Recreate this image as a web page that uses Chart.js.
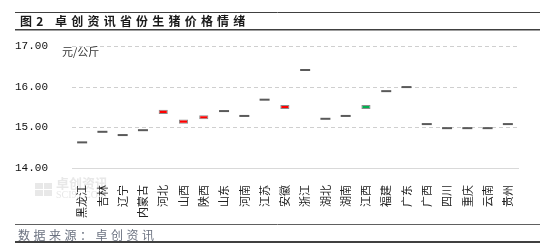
<!DOCTYPE html>
<html>
<head>
<meta charset="utf-8">
<script src="https://cdn.jsdelivr.net/npm/chart.js@4/dist/chart.umd.min.js"></script>
<style>
  body { margin: 0; background: #fff; }
  #wrap { width: 554px; height: 250px; position: relative; }
</style>
</head>
<body>
<div id="wrap"><canvas id="price-chart"></canvas></div>
<script>
const provinces = ['黑龙江', '吉林', '辽宁', '内蒙古', '河北', '山西', '陕西', '山东', '河南', '江苏', '安徽',
  '浙江', '湖北', '湖南', '江西', '福建', '广东', '广西', '四川', '重庆', '云南', '贵州']
const openPrices = [14.63, 14.89, 14.81, 14.93, 15.33, 15.09, 15.20, 15.40, 15.28, 15.68, 15.45,
  16.41, 15.21, 15.28, 15.55, 15.89, 15.99, 15.08, 14.98, 14.98, 14.98, 15.08]
const closePrices = [14.63, 14.89, 14.81, 14.93, 15.43, 15.19, 15.30, 15.40, 15.28, 15.68, 15.55,
  16.41, 15.21, 15.28, 15.45, 15.89, 15.99, 15.08, 14.98, 14.98, 14.98, 15.08]
const yTicks = [14, 15, 16, 17]

const titleText = '图2  卓创资讯省份生猪价格情绪'
const sourceText = '数据来源：卓创资讯'
const unitText = '元/公斤'

function getColor(i) {
  if (closePrices[i] > openPrices[i]) {
    return '#ff0000'
  }
  return '#00b050'
}

// draws a string one character at a time, with a fixed step
function spacedText(ctx, text, x, y, step) {
  for (const ch of text) {
    ctx.fillText(ch, x, y)
    x += ch === ' ' ? step / 3 : (/[0-9]/.test(ch) ? step / 2 : step)
  }
}

const decorations = {
  id: 'decorations',
  beforeDraw(chart) {
    const ctx = chart.ctx
    ctx.save()
    // watermark
    ctx.fillStyle = '#e8e8e8'
    for (let r = 0; r < 2; r++) {
      for (let c = 0; c < 2; c++) {
        ctx.fillRect(35 + c * 9, 183 + r * 7, 8, 6)
      }
    }
    ctx.font = 'bold 13px "Noto Sans CJK SC"'
    ctx.textBaseline = 'middle'
    ctx.fillText('卓创资讯', 56, 183)
    ctx.font = '10px "Liberation Serif"'
    ctx.fillText('SCI99.COM', 56, 195)
    ctx.restore()
  },
  beforeDatasetsDraw(chart) {
    // dashed horizontal grid lines at the y ticks
    const ctx = chart.ctx
    const y = chart.scales.y
    const area = chart.chartArea
    ctx.save()
    ctx.strokeStyle = '#cfcfcf'
    ctx.lineWidth = 1
    ctx.setLineDash([4, 3])
    y.ticks.forEach(t => {
      if (t.value === y.min) return
      const py = Math.round(y.getPixelForValue(t.value)) + 0.5
      ctx.beginPath()
      ctx.moveTo(area.left, py)
      ctx.lineTo(area.right, py)
      ctx.stroke()
    })
    ctx.restore()
  },
  afterDraw(chart) {
    const ctx = chart.ctx
    ctx.save()
    ctx.strokeStyle = '#404040'
    ctx.lineWidth = 1
    ctx.beginPath(); ctx.moveTo(15, 12.5); ctx.lineTo(540, 12.5); ctx.stroke()
    ctx.lineWidth = 1.5
    ctx.beginPath(); ctx.moveTo(15, 29.75); ctx.lineTo(540, 29.75); ctx.stroke()
    ctx.strokeStyle = '#606060'
    ctx.lineWidth = 1
    ctx.beginPath(); ctx.moveTo(15, 224.5); ctx.lineTo(540, 224.5); ctx.stroke()
    ctx.strokeStyle = '#404040'
    ctx.lineWidth = 2
    ctx.beginPath(); ctx.moveTo(15, 242); ctx.lineTo(540, 242); ctx.stroke()

    ctx.textBaseline = 'middle'
    ctx.fillStyle = '#1a1a1a'
    ctx.font = 'bold 12px "Noto Sans CJK SC"'
    spacedText(ctx, titleText, 20, 21.5, 16.2)

    ctx.fillStyle = '#6b7280'
    ctx.font = '12px "Noto Sans CJK SC"'
    spacedText(ctx, sourceText, 18, 235.5, 15.5)

    ctx.fillStyle = '#333'
    ctx.font = '11px "Noto Sans CJK SC"'
    ctx.fillText(unitText, 62, 52)
    ctx.restore()
  }
}

new Chart(document.querySelector('#price-chart').getContext('2d'), {
  data: {
    labels: provinces,
    datasets: [{
      type: 'bar',
      label: '涨跌',
      data: provinces.map((p, i) => openPrices[i] === closePrices[i] ? null : [openPrices[i], closePrices[i]]),
      backgroundColor: provinces.map((p, i) => getColor(i)),
      borderColor: '#8c8c8c',
      borderWidth: 1,
      borderSkipped: false,
      barPercentage: 0.45,
      categoryPercentage: 1
    }, {
      type: 'line',
      label: '持平',
      data: provinces.map((p, i) => openPrices[i] === closePrices[i] ? closePrices[i] : null),
      showLine: false,
      pointStyle: 'line',
      pointRadius: 5,
      pointHoverRadius: 5,
      borderWidth: 2,
      borderColor: '#5a5a5a'
    }]
  },
  options: {
    responsive: true,
    maintainAspectRatio: false,
    animation: false,
    layout: { padding: { top: 46, right: 36, bottom: 0, left: 0 } },
    plugins: {
      legend: { display: false },
      tooltip: { enabled: false }
    },
    scales: {
      x: {
        afterFit: s => { s.height = 82 },
        grid: { display: false },
        border: { display: true, color: '#d9d9d9' },
        ticks: {
          autoSkip: false,
          minRotation: 90,
          maxRotation: 90,
          padding: 9,
          color: '#222',
          font: { family: '"Noto Sans CJK SC"', size: 11 }
        }
      },
      y: {
        min: 14,
        max: 17,
        afterFit: s => { s.width = 72 },
        afterBuildTicks: s => { s.ticks = yTicks.map(v => ({ value: v })) },
        border: { display: false },
        grid: { display: false },
        ticks: {
          padding: 16,
          color: '#111',
          font: { family: '"Liberation Mono"', size: 11 },
          callback: v => v.toFixed(2)
        }
      }
    }
  },
  plugins: [decorations]
});
</script>
</body>
</html>
